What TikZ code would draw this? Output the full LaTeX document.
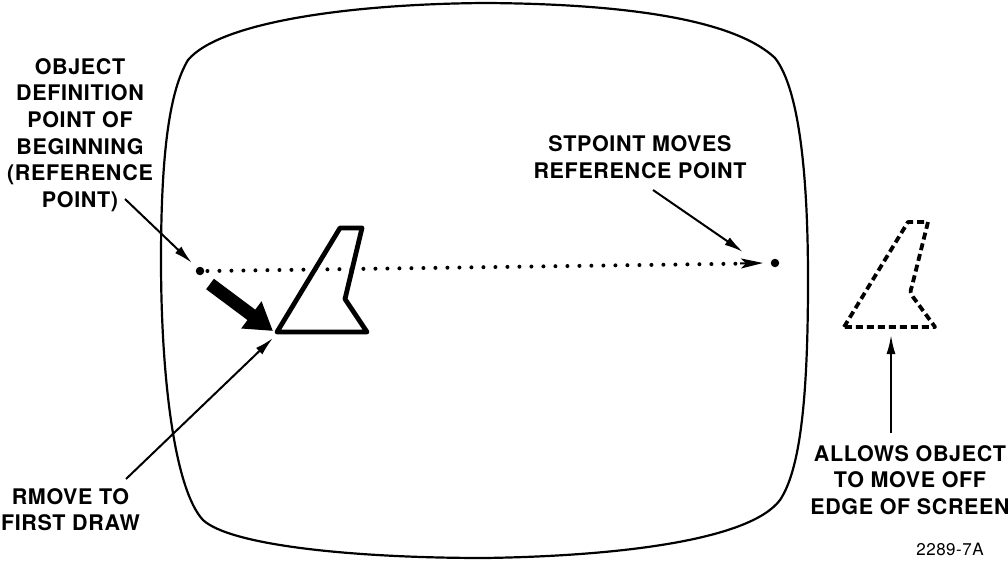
\documentclass[tikz,border=0pt]{standalone}
\usepackage{fontspec}
\setmainfont{TeX Gyre Heros}[LetterSpace=3]
\usetikzlibrary{arrows.meta}
\begin{document}
\begin{tikzpicture}[x=1pt,y=-1pt,
  lbl/.style={font=\bfseries\fontsize{21.5}{26.7}\selectfont, align=center, inner sep=0pt, anchor=north},
  pointer/.style={line width=2pt, -{Latex[length=19pt,width=9pt]}},
  screen/.style={line width=2.2pt},
  solidobj/.style={line width=4.8pt, line join=round},
  dashobj/.style={line width=3.8pt, dash pattern=on 7pt off 4pt, line join=round},
  refdot/.style={circle, fill=black, inner sep=0pt, minimum size=8.5pt},
  dots/.style={line width=4pt, line cap=round, dash pattern=on 0pt off 12pt},
  bigarrow/.style={line width=13pt, -{Triangle[length=27pt,width=32pt]}}]
\useasboundingbox (0,0) rectangle (1008,561);
% screen outline
\draw[screen] (485,3) .. controls (650,4) and (740,25) .. (775,58)
  .. controls (800,90) and (808,180) .. (808,280)
  .. controls (808,400) and (800,470) .. (780,500)
  .. controls (750,540) and (620,556) .. (485,558)
  .. controls (350,558) and (230,545) .. (203,520)
  .. controls (175,490) and (161,380) .. (161,260)
  .. controls (161,150) and (170,90) .. (188,60)
  .. controls (220,22) and (350,4) .. cycle;
% reference points
\node[refdot] (p0) at (200,271) {};
\node[refdot] (p1) at (775,263) {};
\coordinate (p1tip) at (763,263);
\draw[dots] (p0.east) ++(3,0) -- (752,263.5);
\draw[line width=2pt, -{Stealth[length=22pt,width=10pt,inset=5pt]}] (740,263.5) -- (p1tip);
% solid object
\draw[solidobj] (277,332) coordinate (s0) -- (340,228) -- (362,228) -- (345,299) -- (367,332) -- cycle;
% dashed object
\draw[dashobj] (844,327) -- (908,222) -- (928,222) -- (912,286) .. controls (910,292) .. (913,297) -- (935,327) -- cycle;
\coordinate (d0) at (891,335);
% big arrow
\coordinate (b0) at (210,284);
\coordinate (b1) at (273,331);
\draw[bigarrow] (b0) -- (b1);
% labels
\node[lbl] (lobj) at (80,58) {OBJECT\\DEFINITION\\POINT OF\\BEGINNING\\(REFERENCE\\POINT)};
\node[lbl] (lst) at (640,135.5) {STPOINT MOVES\\REFERENCE POINT};
\node[lbl] (lall) at (910,445) {ALLOWS OBJECT\\TO MOVE OFF\\EDGE OF SCREEN};
\node[lbl] (lrm) at (70.5,488) {RMOVE TO\\FIRST DRAW};
\node[inner sep=0pt, anchor=north, font=\fontsize{17}{20}\selectfont] (fig) at (950,543) {2289-7A};
% pointers
\coordinate (a1s) at (125,199);
\coordinate (a1e) at (192,263);
\draw[pointer] (a1s) -- (a1e);
\coordinate (a2s) at (653,190);
\coordinate (a2e) at (743,252);
\draw[pointer] (a2s) -- (a2e);
\coordinate (a3s) at (891,433);
\draw[pointer] (a3s) -- (d0);
\coordinate (a4s) at (126,479);
\coordinate (a4e) at (273,338);
\draw[pointer] (a4s) -- (a4e);
\end{tikzpicture}
\end{document}
